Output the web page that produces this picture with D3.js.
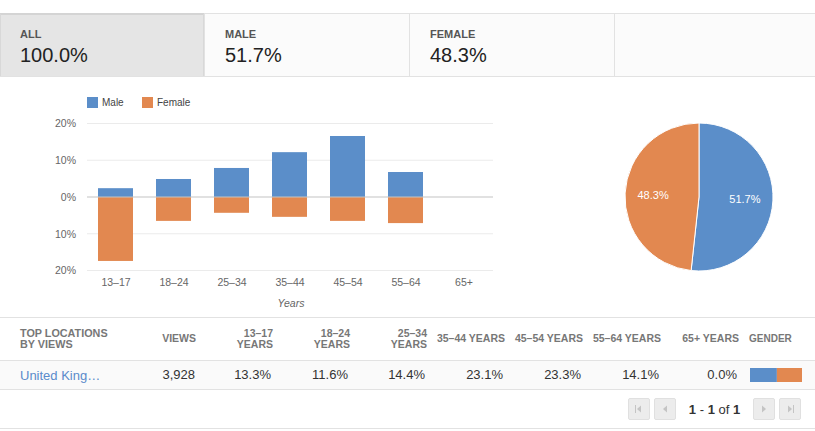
<!DOCTYPE html>
<html><head><meta charset="utf-8">
<script src="https://cdn.jsdelivr.net/npm/d3@7/dist/d3.min.js"></script>
<style>
html,body{margin:0;padding:0;background:#fff;overflow:hidden}
svg{display:block;font-family:"Liberation Sans",Arial,sans-serif}
.axis path,.axis line{display:none}
</style></head><body><svg id="c" width="815" height="431"></svg>
<script>
const ageGroups=["13–17","18–24","25–34","35–44","45–54","55–64","65+"];
const maleValues=[2.4,4.9,7.9,12.2,16.6,6.8,0];
const femaleValues=[17.4,6.5,4.3,5.4,6.5,7.1,0];
const yTicks=[-20,-10,0,10,20];
const tabLabels=["ALL","MALE","FEMALE"];
const tabValues=["100.0%","51.7%","48.3%"];
const genderShares=[51.7,48.3];
const genderNames=["Male","Female"];
const tableAges=["13.3%","11.6%","14.4%","23.1%","23.3%","14.1%","0.0%"];
const colors=["#5b8ec9","#e28850"];

const svg=d3.select("#c");
const tx=(s,x,y,size,fill,o={})=>svg.append("text").attr("x",x).attr("y",y).attr("font-size",size).attr("fill",fill)
  .attr("text-anchor",o.a||"start").attr("font-weight",o.b?"bold":null).attr("font-style",o.i?"italic":null).text(s);
const rect=(x,y,w,h,f)=>svg.append("rect").attr("x",x).attr("y",y).attr("width",w).attr("height",h).attr("fill",f);
const hl=(y,c="#e2e2e2")=>rect(0,y,815,1,c);

// tabs
rect(0,14,815,62,"#fbfbfb");
rect(0,14,204,62,"#e5e5e5");
hl(13);hl(76);
rect(0,13,204,2,"#d4d4d4");rect(0,14,1,62,"#d8d8d8");
[204,409,614].forEach(x=>rect(x,14,1,62,"#e2e2e2"));
rect(203,14,1,62,"#d8d8d8");
tabLabels.forEach((l,i)=>{
  const x=20+205*i;
  tx(l,x,38,11,"#555",{b:1});
  tx(tabValues[i],x,62,20,"#222");
});

// legend
genderNames.forEach((n,i)=>{
  const x=[87,142][i];
  rect(x,97,11,11,colors[i]);
  tx(n,x+15,106,10,"#444");
});

// bar chart
const x=d3.scaleBand().domain(ageGroups).range([86.5,492.5]).paddingInner(23/58).paddingOuter(23/116);
const y=d3.scaleLinear().domain([-20,20]).range([270.5,123.5]);
svg.append("g").selectAll("rect").data(yTicks.filter(d=>d!==0)).join("rect")
  .attr("x",87).attr("width",406).attr("y",d=>y(d)-.5).attr("height",1).attr("fill","#ebebeb");
svg.append("g").selectAll("rect").data(ageGroups).join("rect")
  .attr("x",d=>x(d)).attr("width",x.bandwidth()).attr("fill",colors[0])
  .attr("y",(d,i)=>y(maleValues[i])).attr("height",(d,i)=>y(0)-y(maleValues[i]));
svg.append("g").selectAll("rect").data(ageGroups).join("rect")
  .attr("x",d=>x(d)).attr("width",x.bandwidth()).attr("fill",colors[1])
  .attr("y",y(0)).attr("height",(d,i)=>y(0)-y(femaleValues[i]));
rect(87,196.5,406,1,"#c4c4c4");
const yA=svg.append("g").attr("class","axis").attr("transform","translate(76,0)")
  .call(d3.axisLeft(y).tickValues(yTicks).tickSize(0).tickPadding(0).tickFormat(d=>Math.abs(d)+"%"));
yA.selectAll("text").attr("font-size",10.5).attr("fill","#666").attr("font-family","inherit");
const xA=svg.append("g").attr("class","axis").attr("transform","translate(0.5,278.5)")
  .call(d3.axisBottom(x).tickSize(0).tickPadding(0));
xA.selectAll("text").attr("font-size",10.5).attr("fill","#666").attr("font-family","inherit");
tx("Years",291,307,10.5,"#666",{a:"middle",i:1});

// pie
const pie=d3.pie().sort(null)(genderShares);
const arc=d3.arc().innerRadius(0).outerRadius(74);
const g=svg.append("g").attr("transform","translate(699,197)");
g.selectAll("path").data(pie).join("path").attr("d",arc).attr("fill",(d,i)=>colors[i]).attr("stroke","#fff").attr("stroke-width",1);
const lab=d3.arc().innerRadius(46).outerRadius(46);
g.selectAll("text").data(pie).join("text").attr("text-anchor","middle").attr("font-size",11).attr("fill","#fff")
  .attr("x",d=>lab.centroid(d)[0]).attr("y",d=>lab.centroid(d)[1]+4).text((d,i)=>genderShares[i].toFixed(1)+"%");

// table
hl(317);hl(360);rect(0,361,815,28,"#fafafa");hl(389);hl(428);
const H=(s,x,y,a="end",size=10.5)=>tx(s,x,y,size,"#777",{b:1,a});
H("TOP LOCATIONS",20,337,"start",10.8);H("BY VIEWS",20,348,"start",10.8);
H("VIEWS",196,342);
H("13–17",273,337);H("YEARS",273,348);
H("18–24",350,337);H("YEARS",350,348);
H("25–34",427,337);H("YEARS",427,348);
H("35–44 YEARS",505,342);H("45–54 YEARS",583,342);H("55–64 YEARS",661,342);H("65+ YEARS",739,342);
H("GENDER",749,342,"start",10);
tx("United King…",20,380,13,"#5a8bcb");
tx("3,928",195,379,13,"#333",{a:"end"});
[271,348,425,503,581,659,737].forEach((px,i)=>tx(tableAges[i],px,379,13,"#333",{a:"end"}));
const gb=d3.scaleLinear().domain([0,100]).range([750,802]);
rect(gb(0),368,gb(genderShares[0])-gb(0),14,colors[0]);
rect(gb(genderShares[0]),368,gb(100)-gb(genderShares[0]),14,colors[1]);

// pager
[[628,"M"],[654,"P"],[753,"N"],[779,"L"]].forEach(([bx,k])=>{
  svg.append("rect").attr("x",bx+.5).attr("y",398.5).attr("width",21).attr("height",21).attr("rx",1.5).attr("fill","#ececec").attr("stroke","#e0e0e0");
  const c="#c4c4c4",cx=bx+11,cy=409;
  const left=`M${cx+2},${cy-3.5}L${cx-2},${cy}L${cx+2},${cy+3.5}Z`,right=`M${cx-2},${cy-3.5}L${cx+2},${cy}L${cx-2},${cy+3.5}Z`;
  svg.append("path").attr("d",k==="M"||k==="P"?left:right).attr("fill",c);
  if(k==="M")rect(cx-4,cy-4,1,8,c);
  if(k==="L")rect(cx+3,cy-4,1,8,c);
});
const pg=svg.append("text").attr("x",714.5).attr("y",414).attr("text-anchor","middle").attr("font-size",13).attr("fill","#333");
[["1",1],[" - ",0],["1",1],[" of ",0],["1",1]].forEach(([s,b])=>pg.append("tspan").attr("font-weight",b?"bold":null).attr("xml:space","preserve").text(s));
</script></body></html>
